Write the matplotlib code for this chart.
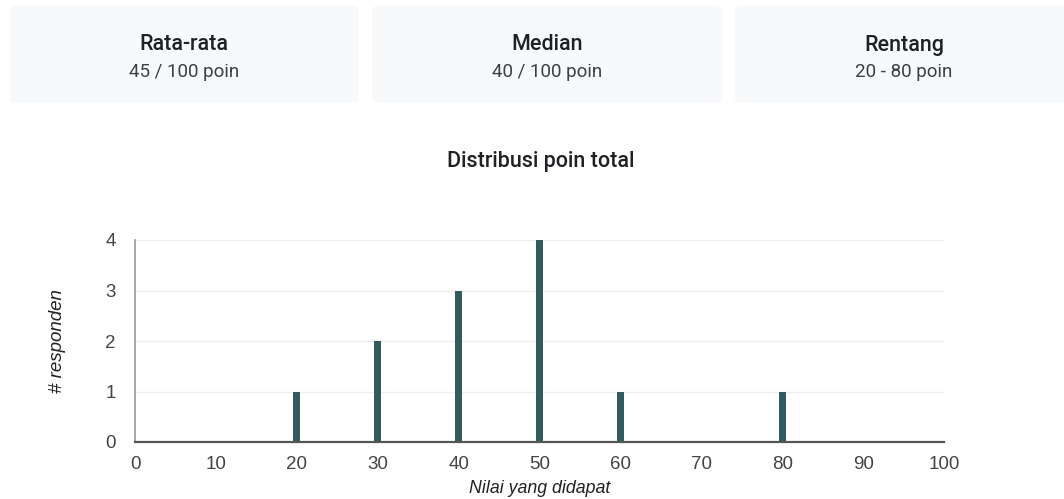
import matplotlib
matplotlib.use("Agg")
import matplotlib.pyplot as plt
from matplotlib.patches import FancyBboxPatch

card_titles = ["Rata-rata", "Median", "Rentang"]
card_values = ["45 / 100 poin", "40 / 100 poin", "20 - 80 poin"]
scores = [20, 30, 40, 50, 60, 80]
counts = [1, 2, 3, 4, 1, 1]
xticks = [0, 10, 20, 30, 40, 50, 60, 70, 80, 90, 100]
yticks = [0, 1, 2, 3, 4]

W, H = 1064, 499
fig = plt.figure(figsize=(W / 100, H / 100), dpi=100)
fig.patch.set_facecolor("white")

# cards
card_x = [(10, 359), (372, 722), (735, 1075)]
card_cx = [184, 547, 904]
for (x0, x1), cx, t, v in zip(card_x, card_cx, card_titles, card_values):
    p = FancyBboxPatch((x0 / W, 1 - 103 / H), (x1 - x0) / W, 97 / H,
                       boxstyle="round,pad=0,rounding_size=0.006",
                       transform=fig.transFigure, facecolor="#f8f9fa",
                       edgecolor="none", zorder=0)
    fig.patches.append(p)
    fig.text(cx / W, 1 - 45 / H, t, ha="center", va="center", fontsize=15.5,
             family="Roboto", fontweight="medium", color="#202124")
    fig.text(cx / W, 1 - 72 / H, v, ha="center", va="center", fontsize=13.5,
             family="Roboto", color="#3c4043")

fig.text(541 / W, 1 - 162 / H, "Distribusi poin total", ha="center", va="center",
         fontsize=15.5, family="Roboto", fontweight="medium", color="#202124")

ax = fig.add_axes([135 / W, (H - 442) / H, (944 - 135) / W, (442 - 240) / H])
ax.bar(scores, counts, width=0.9, color="#335b5f", zorder=3)
ax.set_xlim(0, 100)
ax.set_ylim(0, 4)
ax.set_xticks(xticks)
ax.set_yticks(yticks)
ax.grid(axis="y", color="#eeeeee", linewidth=1, zorder=0)
for s in ["top", "right"]:
    ax.spines[s].set_visible(False)
ax.spines["left"].set_color("#9a9a9a")
ax.spines["left"].set_linewidth(1.2)
ax.spines["bottom"].set_color("#555555")
ax.spines["bottom"].set_linewidth(1.6)
ax.spines["bottom"].set_zorder(4)
ax.tick_params(axis="both", length=0, labelsize=13.5, labelcolor="#444444",
               labelfontfamily="Liberation Sans")
ax.tick_params(axis="x", pad=10)
ax.tick_params(axis="y", pad=14)
ax.set_xlabel("Nilai yang didapat", fontsize=12.8, style="italic",
              family="Liberation Sans", color="#222222", labelpad=5)
ax.set_ylabel("# responden", fontsize=13.5, style="italic",
              family="Liberation Sans", color="#222222", labelpad=28)

fig.savefig("out.png", dpi=100, facecolor="white")
